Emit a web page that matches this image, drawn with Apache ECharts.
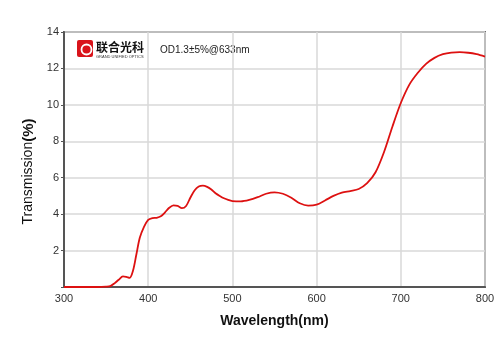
<!DOCTYPE html>
<html>
<head>
<meta charset="utf-8">
<script src="https://cdn.jsdelivr.net/npm/echarts@6/dist/echarts.min.js"></script>
<style>
  html, body { margin: 0; padding: 0; background: #fff; }
  #chart { width: 500px; height: 353px; }
</style>
</head>
<body>
<div id="chart"></div>
<script>
// wavelength (nm) and transmission (%)
const wavelength = [300, 320, 340, 350, 355, 360, 365, 370, 374, 378, 382, 386, 390, 395, 400, 405, 410, 415, 420, 425, 430, 435, 440, 445, 450, 455, 460, 465, 470, 475, 480, 485, 490, 495, 500, 510, 520, 530, 540, 550, 560, 570, 580, 590, 600, 610, 620, 630, 640, 650, 660, 670, 680, 690, 700, 710, 720, 730, 740, 750, 760, 770, 780, 790, 800];
const transmission = [0, 0, 0, 0.02, 0.05, 0.2, 0.4, 0.58, 0.55, 0.5, 0.9, 1.8, 2.7, 3.3, 3.68, 3.78, 3.8, 3.88, 4.1, 4.35, 4.48, 4.45, 4.33, 4.45, 4.9, 5.3, 5.52, 5.57, 5.5, 5.35, 5.15, 5.0, 4.87, 4.78, 4.72, 4.7, 4.78, 4.93, 5.12, 5.2, 5.12, 4.9, 4.6, 4.47, 4.52, 4.75, 5.0, 5.18, 5.27, 5.38, 5.7, 6.3, 7.4, 8.8, 10.1, 11.1, 11.75, 12.25, 12.58, 12.78, 12.87, 12.89, 12.86, 12.78, 12.65];

const xTicks = [300, 400, 500, 600, 700, 800];
const yTicks = [2, 4, 6, 8, 10, 12, 14];

const seriesData = wavelength.map((w, i) => [w, transmission[i]]);

const myChart = echarts.init(document.getElementById('chart'));
const font = '"Liberation Sans", Arial, sans-serif';

const option = {
  animation: false,
  grid: {
    left: 64, right: 15, top: 32, bottom: 66,
    show: true,
    borderColor: '#6e6e6e',
    borderWidth: 2
  },
  xAxis: {
    type: 'value',
    min: xTicks[0],
    max: xTicks[xTicks.length - 1],
    interval: 100,
    name: 'Wavelength(nm)',
    nameLocation: 'middle',
    nameGap: 27,
    nameTextStyle: { fontFamily: font, fontSize: 14, fontWeight: 'bold', color: '#111' },
    axisLine: { lineStyle: { color: '#555', width: 2 } },
    axisTick: { show: false },
    axisLabel: { fontFamily: font, fontSize: 11, color: '#333', margin: 6 },
    splitLine: { lineStyle: { color: '#d8d8d8', width: 1.5 } }
  },
  yAxis: {
    type: 'value',
    min: 0,
    max: yTicks[yTicks.length - 1],
    interval: 2,
    name: '{n|Transmission}{b|(%)}',
    nameLocation: 'middle',
    nameGap: 27,
    nameTextStyle: {
      padding: [0, 24, 0, 0],
      rich: {
        n: { fontFamily: font, fontSize: 14, color: '#111' },
        b: { fontFamily: font, fontSize: 15, fontWeight: 'bold', color: '#111' }
      }
    },
    axisLine: { lineStyle: { color: '#555', width: 2 } },
    axisTick: { show: true, length: 3, lineStyle: { color: '#555' } },
    axisLabel: {
      fontFamily: font, fontSize: 11, color: '#333', margin: 5,
      formatter: v => (yTicks.indexOf(v) >= 0 ? String(v) : '')
    },
    splitLine: { lineStyle: { color: '#d8d8d8', width: 1.5 } }
  },
  graphic: [
    {
      type: 'rect', left: 77, top: 40,
      shape: { width: 16, height: 17, r: 2 },
      style: { fill: '#d9141b' }
    },
    {
      type: 'circle', left: 79, top: 42,
      shape: { r: 5 },
      style: { fill: 'none', stroke: '#fff', lineWidth: 1.8 }
    },
    {
      type: 'text', left: 96, top: 41,
      style: { text: '联合光科', font: 'bold 12px "Noto Sans CJK SC"', fill: '#111' }
    },
    {
      type: 'text', left: 96, top: 55,
      style: { text: 'GRAND UNIFIED OPTICS', font: '4px "Liberation Sans"', fill: '#333' }
    },
    {
      type: 'text', left: 160, top: 45,
      style: { text: 'OD1.3±5%@633nm', font: '10px "Liberation Sans"', fill: '#222' }
    }
  ],
  series: [
    {
      type: 'line',
      data: seriesData,
      smooth: 0.3,
      showSymbol: false,
      lineStyle: { color: '#dd1111', width: 1.8 }
    }
  ]
};
myChart.setOption(option);
</script>
</body>
</html>
